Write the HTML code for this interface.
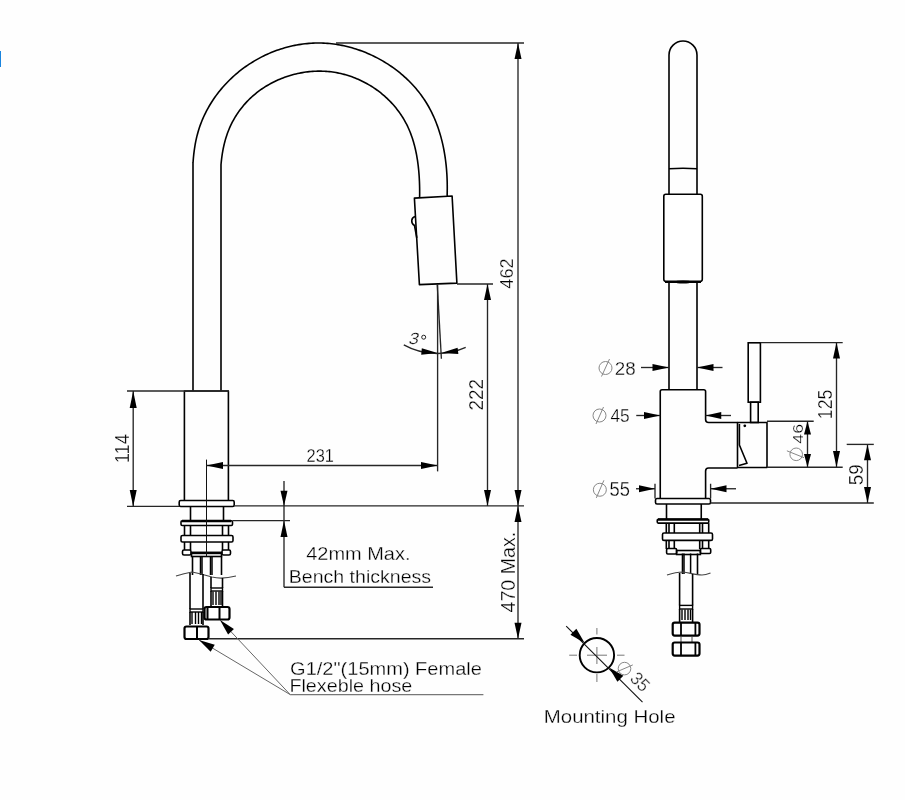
<!DOCTYPE html>
<html><head><meta charset="utf-8"><style>
html,body{margin:0;padding:0;background:#fff;}
body{width:905px;height:800px;overflow:hidden;position:relative;}
svg{position:absolute;left:0;top:0;will-change:transform;}
text{font-family:"Liberation Sans",sans-serif;}
.blue{position:absolute;left:0;top:51px;width:1px;height:16px;background:#1a84de;}
</style></head><body>
<svg width="905" height="800" viewBox="0 0 905 800">
<rect width="905" height="800" fill="#fefefe"/>
<path d="M193,391 L193,163 L193.04,162.72 L193.19,160.65 L193.35,158.58 L193.54,156.51 L193.76,154.45 L194,152.39 L194.26,150.34 L194.55,148.3 L194.87,146.26 L195.22,144.22 L195.6,142.2 L196.01,140.18 L196.46,138.17 L196.93,136.17 L197.44,134.18 L197.99,132.2 L198.57,130.23 L199.19,128.27 L199.85,126.32 L200.54,124.38 L201.27,122.46 L202.04,120.55 L202.84,118.65 L203.68,116.77 L204.55,114.9 L205.45,113.04 L206.39,111.2 L207.36,109.37 L208.36,107.57 L209.39,105.77 L210.46,104 L211.55,102.24 L212.68,100.5 L213.83,98.78 L215.02,97.08 L216.23,95.4 L217.47,93.73 L218.74,92.09 L220.04,90.47 L221.36,88.87 L222.71,87.29 L224.08,85.73 L225.48,84.2 L226.91,82.69 L228.36,81.2 L229.83,79.74 L231.33,78.3 L232.85,76.89 L234.39,75.5 L235.96,74.14 L237.54,72.8 L239.15,71.49 L240.78,70.2 L242.42,68.94 L244.09,67.71 L245.78,66.51 L247.48,65.33 L249.2,64.18 L250.94,63.05 L252.7,61.96 L254.47,60.89 L256.26,59.85 L258.07,58.84 L259.89,57.86 L261.73,56.91 L263.58,55.98 L265.44,55.09 L267.32,54.23 L269.21,53.39 L271.11,52.59 L273.03,51.82 L274.96,51.07 L276.89,50.36 L278.84,49.68 L280.8,49.03 L282.77,48.42 L284.75,47.83 L286.73,47.28 L288.73,46.76 L290.73,46.27 L292.74,45.82 L294.75,45.4 L296.77,45.01 L298.8,44.66 L300.84,44.34 L302.87,44.05 L304.92,43.8 L306.96,43.59 L309.01,43.41 L311.07,43.26 L313.12,43.15 L315.18,43.07 L317.24,43.04 L319.3,43.03 L321.36,43.07 L323.42,43.14 L325.48,43.25 L327.54,43.39 L329.6,43.57 L331.66,43.78 L333.71,44.03 L335.76,44.32 L337.81,44.64 L339.85,44.99 L341.89,45.38 L343.92,45.8 L345.95,46.26 L347.97,46.75 L349.99,47.27 L351.99,47.83 L353.99,48.41 L355.98,49.03 L357.96,49.68 L359.93,50.37 L361.89,51.08 L363.84,51.83 L365.78,52.6 L367.71,53.41 L369.62,54.24 L371.53,55.11 L373.42,56 L375.29,56.92 L377.15,57.88 L378.99,58.86 L380.82,59.87 L382.64,60.9 L384.43,61.97 L386.21,63.06 L387.97,64.18 L389.71,65.32 L391.44,66.5 L393.14,67.69 L394.83,68.92 L396.49,70.17 L398.13,71.44 L399.75,72.74 L401.35,74.06 L402.93,75.41 L404.48,76.79 L406.01,78.18 L407.51,79.6 L408.99,81.04 L410.45,82.51 L411.88,84 L413.28,85.51 L414.65,87.04 L416,88.59 L417.32,90.17 L418.61,91.76 L419.87,93.38 L421.1,95.02 L422.3,96.68 L423.47,98.35 L424.6,100.05 L425.71,101.77 L426.78,103.5 L427.83,105.25 L428.84,107.02 L429.82,108.81 L430.77,110.62 L431.69,112.44 L432.58,114.28 L433.44,116.13 L434.27,117.99 L435.07,119.88 L435.84,121.77 L436.58,123.68 L437.3,125.6 L437.99,127.54 L438.65,129.48 L439.28,131.44 L439.89,133.41 L440.47,135.38 L441.03,137.37 L441.55,139.37 L442.06,141.37 L442.53,143.39 L442.99,145.41 L443.41,147.44 L443.82,149.48 L444.2,151.52 L444.55,153.57 L444.88,155.62 L445.19,157.68 L445.48,159.74 L445.74,161.81 L445.98,163.88 L446.2,165.95 L446.4,168.03 L446.58,170.11 L446.73,172.19 L446.87,174.27 L446.98,176.35 L447.08,178.43 L447.15,180.51 L447.21,182.59 L447.24,184.66 L447.26,186.74 L447.26,188.81 L447.24,190.88 L447.2,192.94 L447.15,195.01 L447.5,196.5" fill="none" stroke="#000" stroke-width="1.6" stroke-linejoin="round"/>
<path d="M221,391 L221,165 L220.99,164.91 L221.14,163.23 L221.3,161.55 L221.49,159.87 L221.69,158.2 L221.9,156.53 L222.14,154.86 L222.4,153.2 L222.68,151.54 L222.98,149.89 L223.3,148.25 L223.65,146.61 L224.01,144.98 L224.4,143.36 L224.82,141.75 L225.26,140.14 L225.72,138.55 L226.21,136.96 L226.72,135.38 L227.26,133.82 L227.82,132.26 L228.42,130.72 L229.04,129.19 L229.69,127.67 L230.36,126.16 L231.07,124.67 L231.8,123.19 L232.55,121.73 L233.34,120.27 L234.15,118.84 L234.98,117.42 L235.85,116.01 L236.73,114.62 L237.64,113.25 L238.58,111.89 L239.54,110.55 L240.53,109.22 L241.54,107.92 L242.58,106.63 L243.63,105.36 L244.71,104.11 L245.82,102.88 L246.95,101.66 L248.09,100.47 L249.27,99.3 L250.46,98.15 L251.68,97.02 L252.91,95.91 L254.17,94.82 L255.45,93.76 L256.75,92.71 L258.07,91.69 L259.41,90.69 L260.77,89.72 L262.14,88.77 L263.53,87.84 L264.94,86.93 L266.37,86.05 L267.81,85.19 L269.27,84.35 L270.75,83.54 L272.23,82.76 L273.74,81.99 L275.25,81.25 L276.78,80.54 L278.32,79.85 L279.87,79.18 L281.44,78.55 L283.01,77.93 L284.6,77.34 L286.19,76.78 L287.8,76.24 L289.41,75.73 L291.03,75.24 L292.66,74.78 L294.3,74.35 L295.94,73.94 L297.59,73.56 L299.24,73.21 L300.9,72.88 L302.57,72.59 L304.23,72.31 L305.9,72.07 L307.58,71.85 L309.25,71.67 L310.93,71.51 L312.61,71.37 L314.29,71.27 L315.97,71.2 L317.65,71.15 L319.33,71.13 L321.01,71.14 L322.68,71.18 L324.36,71.25 L326.03,71.35 L327.7,71.48 L329.36,71.64 L331.02,71.83 L332.67,72.05 L334.32,72.3 L335.97,72.57 L337.6,72.88 L339.23,73.21 L340.86,73.57 L342.48,73.96 L344.09,74.37 L345.69,74.82 L347.29,75.29 L348.87,75.78 L350.45,76.31 L352.02,76.86 L353.58,77.43 L355.12,78.03 L356.66,78.66 L358.19,79.31 L359.7,79.99 L361.21,80.69 L362.7,81.42 L364.18,82.17 L365.65,82.94 L367.1,83.74 L368.54,84.57 L369.97,85.41 L371.38,86.28 L372.78,87.17 L374.17,88.08 L375.53,89.02 L376.88,89.98 L378.22,90.96 L379.54,91.96 L380.84,92.98 L382.13,94.03 L383.4,95.09 L384.65,96.18 L385.88,97.28 L387.09,98.41 L388.28,99.55 L389.46,100.71 L390.61,101.9 L391.74,103.1 L392.85,104.32 L393.95,105.56 L395.02,106.82 L396.06,108.1 L397.09,109.39 L398.09,110.7 L399.07,112.03 L400.03,113.38 L400.97,114.74 L401.87,116.12 L402.76,117.52 L403.62,118.93 L404.45,120.36 L405.26,121.8 L406.05,123.26 L406.8,124.73 L407.53,126.22 L408.24,127.72 L408.91,129.24 L409.56,130.77 L410.19,132.31 L410.79,133.86 L411.37,135.43 L411.92,137.01 L412.46,138.59 L412.96,140.19 L413.45,141.8 L413.91,143.41 L414.35,145.04 L414.77,146.67 L415.17,148.31 L415.55,149.95 L415.91,151.61 L416.25,153.26 L416.57,154.93 L416.87,156.6 L417.15,158.27 L417.42,159.94 L417.67,161.62 L417.9,163.3 L418.11,164.98 L418.31,166.67 L418.49,168.35 L418.66,170.04 L418.82,171.73 L418.95,173.41 L419.08,175.09 L419.19,176.78 L419.29,178.45 L419.37,180.13 L419.45,181.8 L419.51,183.47 L419.56,185.14 L419.6,186.8 L419.63,188.45 L419.65,190.1 L419.66,191.74 L419.66,193.38 L419.65,195 L419.6,197.5" fill="none" stroke="#000" stroke-width="1.6" stroke-linejoin="round"/>
<path d="M414.4,198.1 L452.1,196 L456.9,283.1 L419.4,284.6 Z" fill="none" stroke="#000" stroke-width="1.6" stroke-linejoin="round"/>
<path d="M415,216.5 C411,217.5 410.5,223.5 414.5,225.5 L416.8,238" fill="none" stroke="#000" stroke-width="1.6" stroke-linejoin="round"/>
<path d="M184.4,500.4 L184.4,391 L228.4,391 L228.4,500.4" fill="none" stroke="#000" stroke-width="1.6" stroke-linejoin="round"/>
<rect x="179.2" y="500.5" width="55" height="6" rx="1.5" fill="none" stroke="#000" stroke-width="1.6"/>
<line x1="190.5" y1="506.5" x2="190.5" y2="520.5" stroke="#000" stroke-width="1.6"/>
<line x1="223.5" y1="506.5" x2="223.5" y2="520.5" stroke="#000" stroke-width="1.6"/>
<rect x="181" y="520.8" width="51.5" height="4.7" rx="1.2" fill="none" stroke="#000" stroke-width="1.6"/>
<line x1="182" y1="521" x2="231" y2="521" stroke="#000" stroke-width="2.6"/>
<line x1="184.5" y1="525.5" x2="184.5" y2="535.5" stroke="#000" stroke-width="1.6"/>
<line x1="190.5" y1="525.5" x2="190.5" y2="535.5" stroke="#000" stroke-width="1.6"/>
<line x1="222.5" y1="525.5" x2="222.5" y2="535.5" stroke="#000" stroke-width="1.6"/>
<line x1="228.5" y1="525.5" x2="228.5" y2="535.5" stroke="#000" stroke-width="1.6"/>
<rect x="181" y="535.5" width="52" height="6.5" rx="1.5" fill="none" stroke="#000" stroke-width="1.6"/>
<line x1="184.5" y1="542" x2="184.5" y2="550" stroke="#000" stroke-width="1.6"/>
<line x1="190.5" y1="542" x2="190.5" y2="550" stroke="#000" stroke-width="1.6"/>
<line x1="222.5" y1="542" x2="222.5" y2="550" stroke="#000" stroke-width="1.6"/>
<line x1="228.5" y1="542" x2="228.5" y2="550" stroke="#000" stroke-width="1.6"/>
<rect x="182.5" y="550" width="8.5" height="5" rx="1.5" fill="none" stroke="#000" stroke-width="1.6"/>
<rect x="222" y="550" width="8.5" height="5" rx="1.5" fill="none" stroke="#000" stroke-width="1.6"/>
<rect x="191.5" y="552.5" width="30" height="4" rx="0" fill="none" stroke="#000" stroke-width="1.6"/>
<line x1="192" y1="553" x2="221" y2="553" stroke="#000" stroke-width="2.4"/>
<line x1="192.5" y1="556.5" x2="192.5" y2="575" stroke="#000" stroke-width="1.6"/>
<line x1="200.5" y1="556.5" x2="200.5" y2="575" stroke="#000" stroke-width="1.5"/>
<line x1="202" y1="556.5" x2="202" y2="575" stroke="#000" stroke-width="1.5"/>
<line x1="210.5" y1="556.5" x2="210.5" y2="575" stroke="#000" stroke-width="1.5"/>
<line x1="212" y1="556.5" x2="212" y2="575" stroke="#000" stroke-width="1.5"/>
<line x1="221.5" y1="556.5" x2="221.5" y2="575" stroke="#000" stroke-width="1.6"/>
<path d="M176,576 C182,574 186,573 192,572 C198,573 205,575 212,577 C220,579 228,578 236,576" fill="none" stroke="#444" stroke-width="1.2" stroke-linejoin="round"/>
<line x1="190" y1="573" x2="190" y2="609" stroke="#000" stroke-width="1.6"/>
<line x1="203" y1="574" x2="203" y2="609" stroke="#000" stroke-width="1.6"/>
<rect x="190" y="609" width="13" height="3" rx="0" fill="none" stroke="#000" stroke-width="1.4"/>
<line x1="192" y1="612" x2="192" y2="624" stroke="#000" stroke-width="1.4"/>
<line x1="195.5" y1="612" x2="195.5" y2="624" stroke="#000" stroke-width="1.4"/>
<line x1="198.5" y1="612" x2="198.5" y2="624" stroke="#000" stroke-width="1.4"/>
<line x1="201.5" y1="612" x2="201.5" y2="624" stroke="#000" stroke-width="1.4"/>
<line x1="190" y1="612" x2="190" y2="625" stroke="#000" stroke-width="1.6"/>
<line x1="203" y1="612" x2="203" y2="625" stroke="#000" stroke-width="1.6"/>
<rect x="184.5" y="626.5" width="24" height="12.5" rx="2" fill="none" stroke="#000" stroke-width="2.2"/>
<line x1="197" y1="626.5" x2="197" y2="639" stroke="#000" stroke-width="2"/>
<line x1="211" y1="577" x2="211" y2="588" stroke="#000" stroke-width="1.6"/>
<line x1="222.5" y1="578" x2="222.5" y2="588" stroke="#000" stroke-width="1.6"/>
<rect x="211" y="588" width="11.5" height="3" rx="0" fill="none" stroke="#000" stroke-width="1.4"/>
<line x1="213" y1="591.5" x2="213" y2="605" stroke="#000" stroke-width="1.4"/>
<line x1="216" y1="591.5" x2="216" y2="605" stroke="#000" stroke-width="1.4"/>
<line x1="219" y1="591.5" x2="219" y2="605" stroke="#000" stroke-width="1.4"/>
<line x1="221" y1="591.5" x2="221" y2="605" stroke="#000" stroke-width="1.4"/>
<line x1="211" y1="591" x2="211" y2="606" stroke="#000" stroke-width="1.6"/>
<line x1="222.5" y1="591" x2="222.5" y2="606" stroke="#000" stroke-width="1.6"/>
<rect x="204.5" y="607" width="25" height="12.5" rx="2" fill="none" stroke="#000" stroke-width="2.2"/>
<line x1="207.5" y1="607" x2="207.5" y2="619.5" stroke="#000" stroke-width="2"/>
<line x1="219.5" y1="607" x2="219.5" y2="619.5" stroke="#000" stroke-width="2"/>
<line x1="206.5" y1="459.6" x2="206.5" y2="556" stroke="#111" stroke-width="1.0"/>
<line x1="336" y1="43" x2="524" y2="43" stroke="#262626" stroke-width="1.35"/>
<line x1="518" y1="43" x2="518" y2="506" stroke="#262626" stroke-width="1.35"/>
<path d="M518,43 L521.5,59 L514.5,59 Z" fill="#000"/>
<path d="M518,506 L514.5,490 L521.5,490 Z" fill="#000"/>
<text transform="translate(513.11,288.66) rotate(-90) scale(0.1818,0.1901)" font-size="100" fill="#000" stroke="#fff" stroke-width="1.58">462</text>
<line x1="457" y1="284" x2="493" y2="284" stroke="#262626" stroke-width="1.35"/>
<line x1="487.5" y1="284" x2="487.5" y2="506" stroke="#262626" stroke-width="1.35"/>
<path d="M487.5,284 L491,300 L484,300 Z" fill="#000"/>
<path d="M487.5,506 L484,490 L491,490 Z" fill="#000"/>
<text transform="translate(482.9,410.45) rotate(-90) scale(0.1891,0.1950)" font-size="100" fill="#000" stroke="#fff" stroke-width="1.54">222</text>
<line x1="127" y1="391" x2="229" y2="391" stroke="#262626" stroke-width="1.35"/>
<line x1="127" y1="506.4" x2="179" y2="506.4" stroke="#262626" stroke-width="1.35"/>
<line x1="133.2" y1="391" x2="133.2" y2="506.4" stroke="#262626" stroke-width="1.35"/>
<path d="M133.2,391 L136.7,408 L129.7,408 Z" fill="#000"/>
<path d="M133.2,506.4 L129.7,490 L136.7,490 Z" fill="#000"/>
<text transform="translate(128.9,463.27) rotate(-90) scale(0.1832,0.1986)" font-size="100" fill="#000" stroke="#fff" stroke-width="1.51">114</text>
<line x1="234.2" y1="505.8" x2="524" y2="505.8" stroke="#262626" stroke-width="1.35"/>
<line x1="206.5" y1="465.5" x2="437.6" y2="465.5" stroke="#262626" stroke-width="1.35"/>
<path d="M206.5,465.5 L223,462 L223,469 Z" fill="#000"/>
<path d="M437.6,465.5 L421,469 L421,462 Z" fill="#000"/>
<text transform="translate(306.58,461.51) scale(0.1637,0.1887)" font-size="100" fill="#000" stroke="#fff" stroke-width="1.59">231</text>
<line x1="437.6" y1="284" x2="437.6" y2="471.4" stroke="#262626" stroke-width="1.35"/>
<line x1="437.2" y1="284" x2="441.4" y2="358.7" stroke="#262626" stroke-width="1.35"/>
<path d="M403.8,344.9 A69.4,69.4 0 0 0 465.7,347.4" fill="none" stroke="#262626" stroke-width="1.35" stroke-linejoin="round"/>
<path d="M437.6,353 L421.2,354.69 L421.8,348.31 Z" fill="#000"/>
<path d="M441,353 L457.59,347.63 L458.41,353.97 Z" fill="#000"/>
<text transform="translate(407.83,343.74) skewX(-14) scale(0.1832,0.1620)" font-size="100" fill="#000" stroke="#fff" stroke-width="1.64">3</text>
<circle cx="423.7" cy="337.2" r="2" fill="none" stroke="#222" stroke-width="1"/>
<line x1="284" y1="481" x2="284" y2="587.2" stroke="#262626" stroke-width="1.35"/>
<path d="M284,506 L280.5,490.7 L287.5,490.7 Z" fill="#000"/>
<path d="M284,520.5 L287.5,537 L280.5,537 Z" fill="#000"/>
<line x1="232.5" y1="520.6" x2="290" y2="520.6" stroke="#262626" stroke-width="1.35"/>
<line x1="284" y1="587.2" x2="433" y2="587.2" stroke="#262626" stroke-width="1.35"/>
<text transform="translate(306.2,560.22) scale(0.1998,0.1845)" font-size="100" fill="#000" stroke="#fff" stroke-width="1.50">42mm Max.</text>
<text transform="translate(288.73,582.82) scale(0.1957,0.1810)" font-size="100" fill="#000" stroke="#fff" stroke-width="1.53">Bench thickness</text>
<line x1="518" y1="506" x2="518" y2="638.7" stroke="#262626" stroke-width="1.35"/>
<path d="M518,506 L521.5,522 L514.5,522 Z" fill="#000"/>
<path d="M518,638.7 L514.5,622.8 L521.5,622.8 Z" fill="#000"/>
<line x1="208.5" y1="638.7" x2="524" y2="638.7" stroke="#262626" stroke-width="1.35"/>
<text transform="translate(514.6,612.49) rotate(-90) scale(0.1965,0.2014)" font-size="100" fill="#000" stroke="#fff" stroke-width="1.49">470 Max.</text>
<line x1="290.2" y1="694.6" x2="199" y2="640" stroke="#666" stroke-width="1.0"/>
<line x1="290.2" y1="694.6" x2="220" y2="620" stroke="#666" stroke-width="1.0"/>
<path d="M199,640 L214.75,644.77 L210.65,651.63 Z" fill="#000"/>
<path d="M220,620 L233.91,628.96 L228.09,634.44 Z" fill="#000"/>
<line x1="290.2" y1="694.6" x2="483.4" y2="694.6" stroke="#777" stroke-width="1.1"/>
<text transform="translate(290.1,674.7) scale(0.2002,0.1913)" font-size="100" fill="#000" stroke="#fff" stroke-width="1.50">G1/2&quot;(15mm) Female</text>
<text transform="translate(289.42,691.81) scale(0.1975,0.1905)" font-size="100" fill="#000" stroke="#fff" stroke-width="1.52">Flexeble hose</text>
<path d="M669,390 L669,55 A14,14 0 0 1 697,55 L697,390" fill="none" stroke="#000" stroke-width="1.6" stroke-linejoin="round"/>
<path d="M669,168.8 Q683,167.8 697,168.8" fill="none" stroke="#000" stroke-width="1.5" stroke-linejoin="round"/>
<rect x="663.8" y="194.3" width="38.5" height="87" rx="2" fill="#fff" stroke="#000" stroke-width="1.6"/>
<line x1="665" y1="282" x2="701" y2="282" stroke="#000" stroke-width="2.2"/>
<ellipse cx="683" cy="282" rx="8" ry="1.6" fill="#000"/>
<path d="M660.25,498.5 L660.25,391.5 Q660.25,389.75 662,389.75 L703.8,389.75 Q705.6,389.75 705.6,391.5 L705.6,419.5 Q705.6,422.5 708.6,422.5 L737.5,422.5" fill="none" stroke="#000" stroke-width="1.6" stroke-linejoin="round"/>
<path d="M737.5,468 L708.6,468 Q705.6,468 705.6,471 L705.6,498.5" fill="none" stroke="#000" stroke-width="1.6" stroke-linejoin="round"/>
<rect x="748.2" y="342.8" width="12.2" height="59.4" rx="0" fill="none" stroke="#000" stroke-width="1.6"/>
<rect x="750.6" y="402.2" width="7.6" height="20.3" rx="0" fill="none" stroke="#000" stroke-width="1.6"/>
<path d="M737.5,422.5 L767,422.5 L767,467.5 L737.5,467.5 Z" fill="none" stroke="#000" stroke-width="1.6" stroke-linejoin="round"/>
<path d="M739.4,424 L739.4,445 L747,463.2 L739,465.5" fill="none" stroke="#000" stroke-width="1.6" stroke-linejoin="round"/>
<circle cx="744.8" cy="425.8" r="1.4" fill="#000"/>
<rect x="655.5" y="498.5" width="55" height="5.5" rx="1.5" fill="none" stroke="#000" stroke-width="1.6"/>
<line x1="666.5" y1="504" x2="666.5" y2="519" stroke="#000" stroke-width="1.6"/>
<line x1="701.25" y1="504" x2="701.25" y2="519" stroke="#000" stroke-width="1.6"/>
<rect x="657.25" y="519.3" width="51.5" height="3.8" rx="1" fill="none" stroke="#000" stroke-width="1.6"/>
<line x1="658" y1="519.5" x2="708" y2="519.5" stroke="#000" stroke-width="2.6"/>
<line x1="666.3" y1="523.1" x2="666.3" y2="533" stroke="#000" stroke-width="1.6"/>
<line x1="669" y1="523.1" x2="669" y2="533" stroke="#000" stroke-width="1.6"/>
<line x1="674.3" y1="523.1" x2="674.3" y2="533" stroke="#000" stroke-width="1.6"/>
<line x1="699.7" y1="523.1" x2="699.7" y2="533" stroke="#000" stroke-width="1.6"/>
<line x1="702.5" y1="523.1" x2="702.5" y2="533" stroke="#000" stroke-width="1.6"/>
<line x1="708.7" y1="523.1" x2="708.7" y2="533" stroke="#000" stroke-width="1.6"/>
<rect x="662.5" y="533" width="50" height="7.4" rx="1.5" fill="none" stroke="#000" stroke-width="1.6"/>
<line x1="666.3" y1="540.4" x2="666.3" y2="549" stroke="#000" stroke-width="1.6"/>
<line x1="669" y1="540.4" x2="669" y2="549" stroke="#000" stroke-width="1.6"/>
<line x1="674.3" y1="540.4" x2="674.3" y2="549" stroke="#000" stroke-width="1.6"/>
<line x1="699.7" y1="540.4" x2="699.7" y2="549" stroke="#000" stroke-width="1.6"/>
<line x1="702.5" y1="540.4" x2="702.5" y2="549" stroke="#000" stroke-width="1.6"/>
<line x1="708.7" y1="540.4" x2="708.7" y2="549" stroke="#000" stroke-width="1.6"/>
<rect x="666.6" y="548.5" width="10" height="5.5" rx="1.2" fill="none" stroke="#000" stroke-width="1.6"/>
<rect x="700.4" y="548.5" width="10.3" height="5" rx="1.2" fill="none" stroke="#000" stroke-width="1.6"/>
<rect x="676.6" y="550.5" width="23.8" height="4" rx="0" fill="none" stroke="#000" stroke-width="1.6"/>
<line x1="682.5" y1="553.5" x2="682.5" y2="574" stroke="#000" stroke-width="1.6"/>
<line x1="684" y1="553.5" x2="684" y2="574" stroke="#000" stroke-width="1.5"/>
<line x1="690.6" y1="553.5" x2="690.6" y2="574" stroke="#000" stroke-width="1.5"/>
<line x1="697.5" y1="553.5" x2="697.5" y2="574" stroke="#000" stroke-width="1.6"/>
<path d="M667,575 C673,573 678,572 683,572 C690,573 696,575 702,575 C705,575 708,574 710.5,573" fill="none" stroke="#444" stroke-width="1.2" stroke-linejoin="round"/>
<line x1="679.6" y1="573" x2="679.6" y2="605.4" stroke="#000" stroke-width="1.6"/>
<line x1="692.6" y1="574" x2="692.6" y2="605.4" stroke="#000" stroke-width="1.6"/>
<rect x="679.6" y="605.4" width="13" height="3.6" rx="0" fill="none" stroke="#000" stroke-width="1.4"/>
<line x1="682" y1="609.5" x2="682" y2="620" stroke="#000" stroke-width="1.4"/>
<line x1="685" y1="609.5" x2="685" y2="620" stroke="#000" stroke-width="1.4"/>
<line x1="688" y1="609.5" x2="688" y2="620" stroke="#000" stroke-width="1.4"/>
<line x1="690.5" y1="609.5" x2="690.5" y2="620" stroke="#000" stroke-width="1.4"/>
<line x1="679.6" y1="609" x2="679.6" y2="622" stroke="#000" stroke-width="1.6"/>
<line x1="692.6" y1="609" x2="692.6" y2="622" stroke="#000" stroke-width="1.6"/>
<rect x="672.7" y="622.6" width="26.8" height="13" rx="2" fill="none" stroke="#000" stroke-width="2.2"/>
<line x1="681" y1="622.6" x2="681" y2="635.6" stroke="#000" stroke-width="1.8"/>
<line x1="695.4" y1="622.6" x2="695.4" y2="635.6" stroke="#000" stroke-width="1.8"/>
<line x1="681" y1="636" x2="681" y2="642" stroke="#444" stroke-width="1"/>
<line x1="692" y1="636" x2="692" y2="642" stroke="#444" stroke-width="1"/>
<rect x="672.7" y="642.5" width="26.8" height="13.1" rx="2" fill="none" stroke="#000" stroke-width="2.2"/>
<line x1="681" y1="642.5" x2="681" y2="655.6" stroke="#000" stroke-width="1.8"/>
<line x1="695.4" y1="642.5" x2="695.4" y2="655.6" stroke="#000" stroke-width="1.8"/>
<line x1="641" y1="367.5" x2="669" y2="367.5" stroke="#262626" stroke-width="1.35"/>
<path d="M669,367.5 L652.5,371 L652.5,364 Z" fill="#000"/>
<line x1="697" y1="367.5" x2="722.5" y2="367.5" stroke="#262626" stroke-width="1.35"/>
<path d="M697,367.5 L713.5,364 L713.5,371 Z" fill="#000"/>
<circle cx="605.5" cy="368" r="6.5" fill="none" stroke="#888" stroke-width="1"/>
<line x1="601.5" y1="376.5" x2="609.5" y2="359" stroke="#888" stroke-width="1"/>
<text transform="translate(614.86,374.61) scale(0.1882,0.1873)" font-size="100" fill="#000" stroke="#fff" stroke-width="1.59">28</text>
<line x1="636.25" y1="415.5" x2="660.25" y2="415.5" stroke="#262626" stroke-width="1.35"/>
<path d="M660.25,415.5 L644,419 L644,412 Z" fill="#000"/>
<line x1="705.6" y1="415.5" x2="731" y2="415.5" stroke="#262626" stroke-width="1.35"/>
<path d="M705.6,415.5 L721.25,412 L721.25,419 Z" fill="#000"/>
<circle cx="599.5" cy="415.5" r="6.5" fill="none" stroke="#888" stroke-width="1"/>
<line x1="596" y1="424" x2="603.5" y2="407" stroke="#888" stroke-width="1"/>
<text transform="translate(610.45,422.02) scale(0.1733,0.1814)" font-size="100" fill="#000" stroke="#fff" stroke-width="1.65">45</text>
<line x1="655" y1="483.75" x2="655" y2="498.5" stroke="#262626" stroke-width="1.35"/>
<line x1="710.6" y1="483.75" x2="710.6" y2="498.5" stroke="#262626" stroke-width="1.35"/>
<line x1="636" y1="488.75" x2="655" y2="488.75" stroke="#262626" stroke-width="1.35"/>
<path d="M655,488.75 L639,492.25 L639,485.25 Z" fill="#000"/>
<line x1="710.6" y1="488.75" x2="736" y2="488.75" stroke="#262626" stroke-width="1.35"/>
<path d="M710.6,488.75 L726.5,485.25 L726.5,492.25 Z" fill="#000"/>
<circle cx="599.85" cy="489.75" r="6.5" fill="none" stroke="#888" stroke-width="1"/>
<line x1="596.3" y1="497.9" x2="603.9" y2="480.3" stroke="#888" stroke-width="1"/>
<text transform="translate(609.47,496.31) scale(0.1835,0.1943)" font-size="100" fill="#000" stroke="#fff" stroke-width="1.54">55</text>
<line x1="760.4" y1="342.6" x2="842.7" y2="342.6" stroke="#262626" stroke-width="1.35"/>
<line x1="767" y1="467.2" x2="842.7" y2="467.2" stroke="#262626" stroke-width="1.35"/>
<line x1="836.5" y1="342.6" x2="836.5" y2="467.2" stroke="#262626" stroke-width="1.35"/>
<path d="M836.5,342.6 L840,358.5 L833,358.5 Z" fill="#000"/>
<path d="M836.5,467.2 L833,451 L840,451 Z" fill="#000"/>
<text transform="translate(832.3,419.13) rotate(-90) scale(0.1774,0.1972)" font-size="100" fill="#000" stroke="#fff" stroke-width="1.52">125</text>
<line x1="767" y1="421.2" x2="813.7" y2="421.2" stroke="#262626" stroke-width="1.35"/>
<line x1="807.5" y1="421.2" x2="807.5" y2="467.2" stroke="#262626" stroke-width="1.35"/>
<path d="M807.5,421.2 L811,434.6 L804,434.6 Z" fill="#000"/>
<path d="M807.5,467.2 L804,454 L811,454 Z" fill="#000"/>
<text transform="translate(802.55,443.65) rotate(-90) scale(0.1771,0.1549)" font-size="100" fill="#000" stroke="#fff" stroke-width="1.69">46</text>
<circle cx="796.2" cy="454.3" r="6.3" fill="none" stroke="#888" stroke-width="1"/>
<line x1="786.9" y1="450.8" x2="804" y2="457.7" stroke="#888" stroke-width="1"/>
<line x1="846.7" y1="444.4" x2="873.8" y2="444.4" stroke="#262626" stroke-width="1.35"/>
<line x1="710.5" y1="503" x2="873.8" y2="503" stroke="#262626" stroke-width="1.35"/>
<line x1="867.5" y1="444.4" x2="867.5" y2="503" stroke="#262626" stroke-width="1.35"/>
<path d="M867.5,444.4 L871,460.3 L864,460.3 Z" fill="#000"/>
<path d="M867.5,503 L864,486.9 L871,486.9 Z" fill="#000"/>
<text transform="translate(863,485.25) rotate(-90) scale(0.1873,0.2028)" font-size="100" fill="#000" stroke="#fff" stroke-width="1.48">59</text>
<circle cx="596.9" cy="655.2" r="17.2" fill="none" stroke="#000" stroke-width="1.9"/>
<line x1="569.2" y1="655.2" x2="577" y2="655.2" stroke="#777" stroke-width="1"/>
<line x1="587" y1="655.2" x2="607" y2="655.2" stroke="#777" stroke-width="1"/>
<line x1="617" y1="655.2" x2="624.5" y2="655.2" stroke="#777" stroke-width="1"/>
<line x1="596.9" y1="628" x2="596.9" y2="634.5" stroke="#777" stroke-width="1"/>
<line x1="596.9" y1="647" x2="596.9" y2="664" stroke="#777" stroke-width="1"/>
<line x1="596.9" y1="674" x2="596.9" y2="682" stroke="#777" stroke-width="1"/>
<line x1="566.2" y1="626.2" x2="642.5" y2="702.2" stroke="#111" stroke-width="1.1"/>
<path d="M584.7,643 L570.43,634.67 L576.37,628.73 Z" fill="#000"/>
<path d="M609.1,667.4 L623.37,675.73 L617.43,681.67 Z" fill="#000"/>
<circle cx="624.5" cy="668.6" r="6.3" fill="none" stroke="#888" stroke-width="1"/>
<line x1="616.6" y1="671.9" x2="632.8" y2="664.9" stroke="#888" stroke-width="1"/>
<text transform="translate(640.1,681.8) rotate(45) scale(0.1699,0.1831) translate(-55.5,34.5)" font-size="100" fill="#222" stroke="#fff" stroke-width="1.64">35</text>
<text transform="translate(543.76,722.9) scale(0.2044,0.1797)" font-size="100" fill="#000" stroke="#fff" stroke-width="1.47">Mounting Hole</text>
</svg>
<div class="blue"></div>
</body></html>
